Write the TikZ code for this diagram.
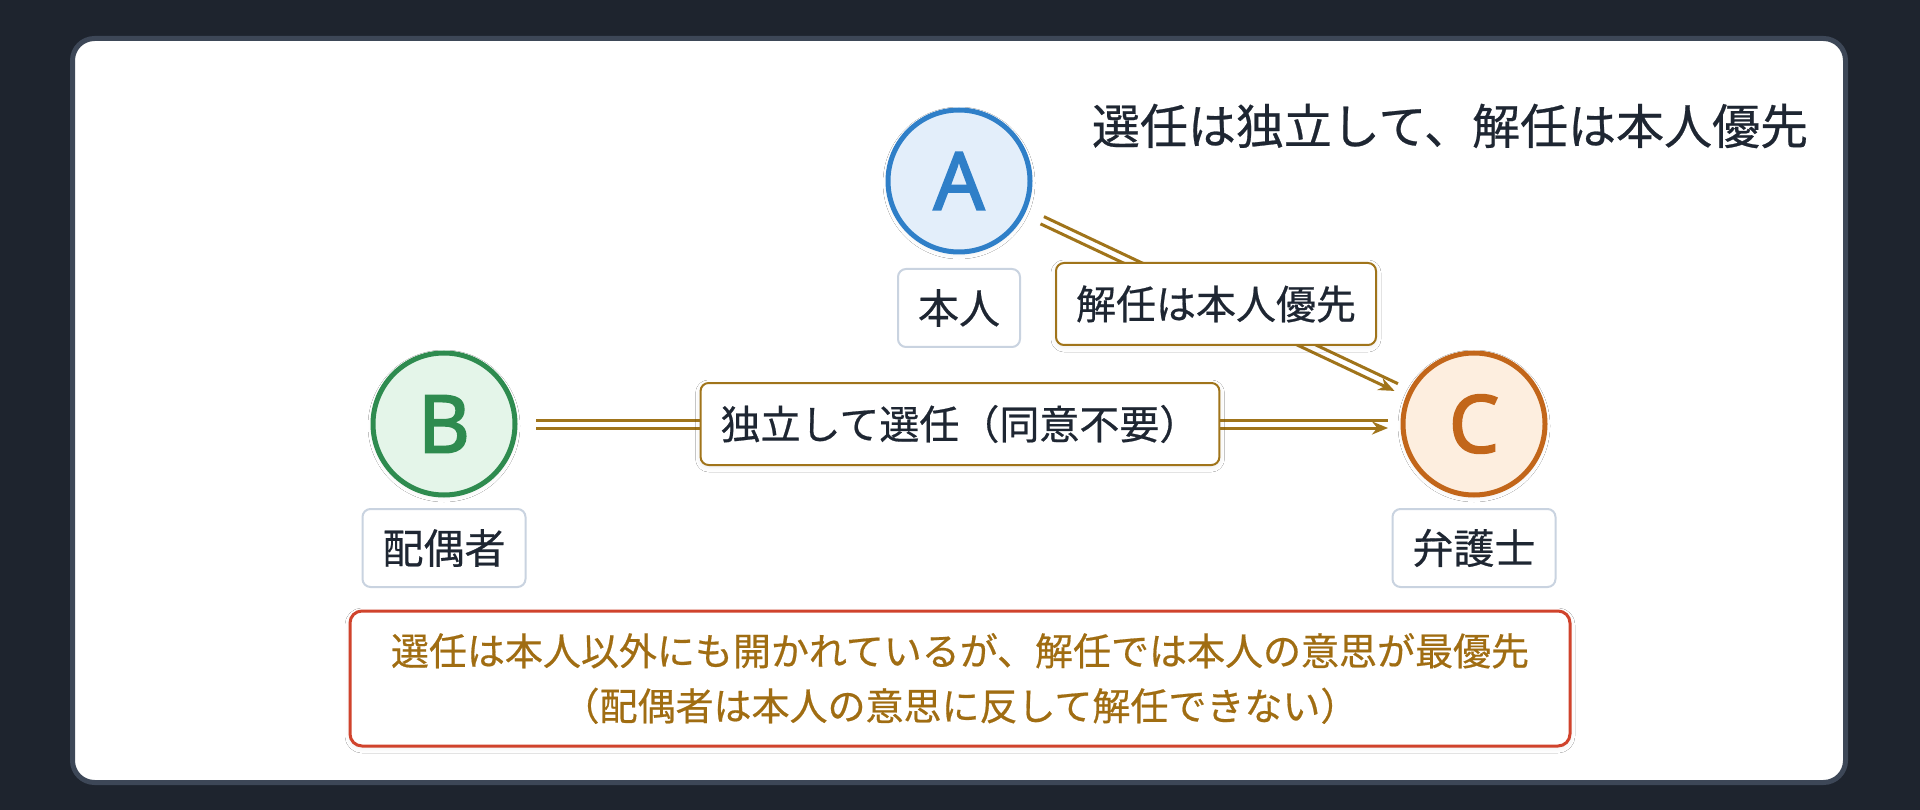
\documentclass[tikz,border=0pt]{standalone}
\usepackage{fontspec}
\setmainfont{Noto Sans CJK JP}
\newfontface\medjp{Noto Sans CJK JP}[FakeBold=0.5]
\newfontface\letterfont{Noto Sans}[FakeBold=2.2]
\usetikzlibrary{calc,arrows.meta,shadows.blur}
\definecolor{bgdark}{HTML}{1E242E}
\definecolor{cardborder}{HTML}{3D4757}
\definecolor{ink}{HTML}{1E2632}
\definecolor{rolegray}{HTML}{C9D3E0}
\definecolor{gold}{HTML}{A0741A}
\definecolor{goldtext}{HTML}{A06D12}
\definecolor{redb}{HTML}{D0432C}
\definecolor{afill}{HTML}{E3EEFA}
\definecolor{adraw}{HTML}{2F7FC8}
\definecolor{bfill}{HTML}{E4F5E9}
\definecolor{bdraw}{HTML}{2E8B4F}
\definecolor{cfill}{HTML}{FDEEDF}
\definecolor{cdraw}{HTML}{C2661A}
\tikzset{
  softshadow/.style={blur shadow={shadow blur radius=5pt, shadow xshift=0pt, shadow yshift=-2pt, shadow opacity=8}},
  person/.style={circle, minimum size=142pt, inner sep=0pt, line width=5pt, softshadow,
    font=\letterfont\fontsize{80}{80}\selectfont},
  rolebox/.style={rectangle, draw=rolegray, line width=2pt, fill=white, rounded corners=8pt,
    minimum height=78pt, inner xsep=20pt, inner ysep=0pt, text=ink, font=\medjp\fontsize{41}{41}\selectfont},
  edgebox/.style={rectangle, draw=gold, line width=2pt, fill=white, rounded corners=8pt, softshadow,
    minimum height=82pt, inner xsep=20pt, inner ysep=0pt, text=ink, font=\medjp\fontsize{40}{40}\selectfont},
  link/.style={draw=gold, line width=3pt},
  linkarrow/.style={link, -{Stealth[length=16pt,width=13pt]}},
}
\begin{document}
\begin{tikzpicture}[x=1pt,y=-1pt]
\fill[bgdark] (0,0) rectangle (1920,810);
\useasboundingbox (0,0) rectangle (1920,810);
\draw[cardborder, line width=5pt, fill=white, rounded corners=22pt] (72.5,38.5) rectangle (1845.5,782.5);

\node[text=ink, font=\medjp\fontsize{48}{48}\selectfont, inner sep=0pt] (title) at (1450,126) {選任は独立して、解任は本人優先};

\node[person, fill=afill, draw=adraw, text=adraw] (A) at (959,181) {A};
\node[person, fill=bfill, draw=bdraw, text=bdraw] (B) at (444,424) {B};
\node[person, fill=cfill, draw=cdraw, text=cdraw] (C) at (1474,424) {C};

\node[rolebox] (rA) at (959,308) {本人};
\node[rolebox] (rB) at (444,548) {配偶者};
\node[rolebox] (rC) at (1474,548) {弁護士};

% B -> C
\coordinate (bs) at ($(B.center)!92pt!(C.center)$);
\coordinate (ce1) at ($(C.center)!86pt!(B.center)$);
\draw[link] ($(bs)!4pt!90:(ce1)$) -- ($(ce1)!4pt!-90:(bs)$);
\draw[linkarrow] ($(bs)!4pt!-90:(ce1)$) -- ($(ce1)!4pt!90:(bs)$);
% A -> C
\coordinate (as) at ($(A.center)!92pt!(C.center)$);
\coordinate (ce2) at ($(C.center)!86pt!(A.center)$);
\draw[link] ($(as)!4pt!90:(ce2)$) -- ($(ce2)!4pt!-90:(as)$);
\draw[linkarrow] ($(as)!4pt!-90:(ce2)$) -- ($(ce2)!4pt!90:(as)$);

\node[edgebox] (lBC) at (960,424) {独立して選任（同意不要）};
\node[edgebox] (lAC) at (1216,304) {解任は本人優先};

\node[rectangle, draw=redb, line width=3pt, fill=white, rounded corners=12pt, softshadow,
  minimum width=1220pt, minimum height=135pt, align=center, text=goldtext,
  font=\medjp\fontsize{38}{55}\selectfont] (note) at (960,678.5)
  {選任は本人以外にも開かれているが、解任では本人の意思が最優先\\（配偶者は本人の意思に反して解任できない）};
\end{tikzpicture}
\end{document}
